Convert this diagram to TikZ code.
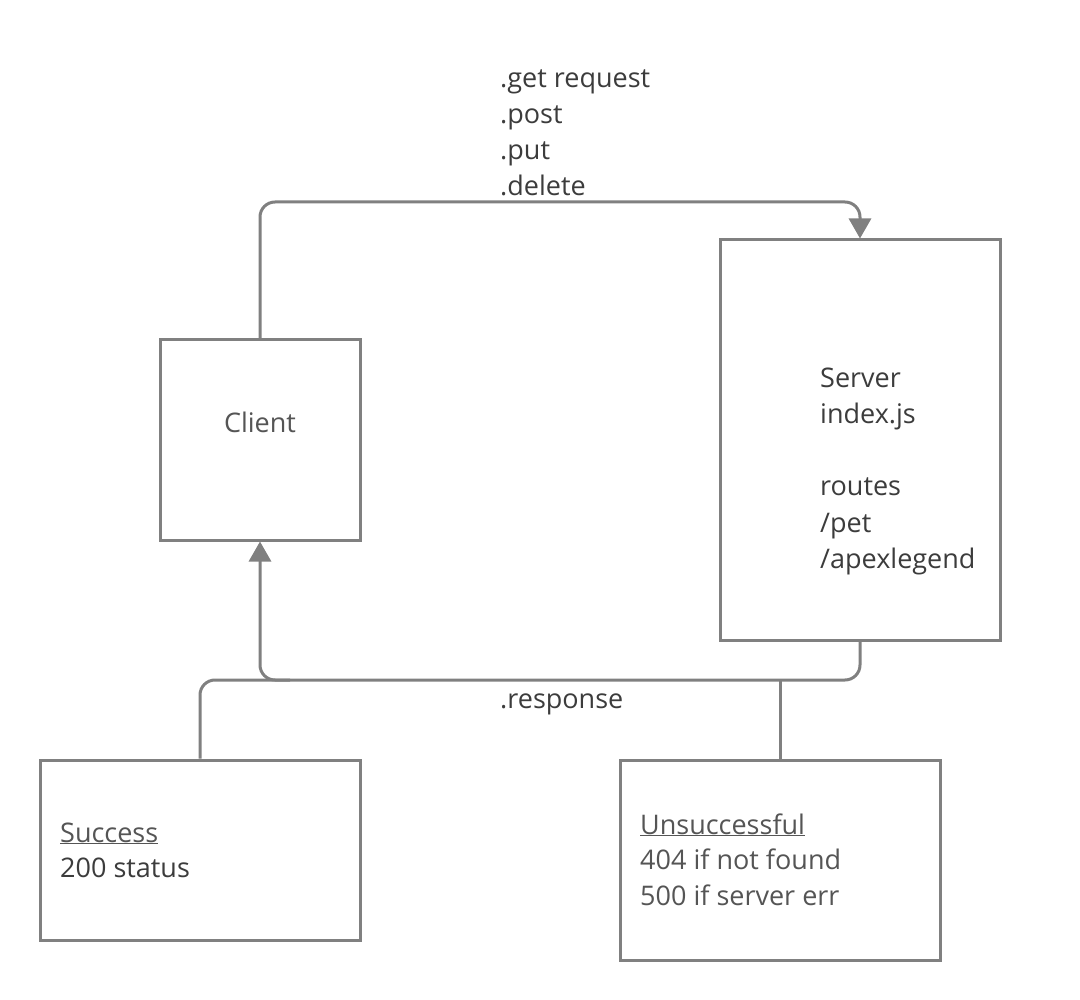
\documentclass[tikz,border=0pt]{standalone}
\usepackage{fontspec}
\setmainfont{Open Sans}
\usetikzlibrary{arrows.meta}
\definecolor{ln}{HTML}{808080}
\definecolor{tx}{HTML}{3C3C3C}
\definecolor{txl}{HTML}{555555}
\begin{document}
\begin{tikzpicture}[x=1pt,y=-1pt,
  box/.style={draw=ln,line width=3pt,fill=white,inner sep=0pt},
  lbl/.style={inner sep=0pt,anchor=base west,text=tx,font=\fontsize{27}{32}\selectfont},
  conn/.style={draw=ln,line width=3pt,rounded corners=15pt},
  tip/.style={-{Triangle[width=22pt,length=20pt]}}]
\useasboundingbox (0,0) rectangle (1080,1000);
% boxes
\node[box,minimum width=200pt,minimum height=200pt] (client) at (260,440) {};
\node[box,minimum width=280pt,minimum height=400pt] (server) at (860,440) {};
\node[box,minimum width=320pt,minimum height=180pt] (success) at (200,850) {};
\node[box,minimum width=320pt,minimum height=200pt] (unsucc) at (780,860) {};
% coordinates
\coordinate (top) at (560,202);
\coordinate (bot) at (560,680);
\coordinate (sj) at (290,680);
% connectors
\draw[conn,tip] (client.north) |- (top) -| (server.north);
\draw[conn,tip] (server.south) |- (bot) -| (client.south);
\draw[conn] (success.north) |- (sj);
\draw[conn] (unsucc.north) -- (unsucc.north |- bot);
% labels
\node[lbl] (m1) at (500,88) {.get request};
\node[lbl] (m2) at (500,124) {.post};
\node[lbl] (m3) at (500,160) {.put};
\node[lbl] (m4) at (500,196) {.delete};
\node[lbl] (resp) at (500,708) {.response};
\node[lbl,anchor=base,text=txl] (ct) at (260,432) {Client};
\node[lbl] (s1) at (820,388) {Server};
\node[lbl] (s2) at (820,424) {index.js};
\node[lbl] (s3) at (820,496) {routes};
\node[lbl] (s4) at (820,532) {/pet};
\node[lbl] (s5) at (820,568) {/apexlegend};
\node[lbl,text=txl] (ok1) at (60,842) {\underline{Success}};
\node[lbl] (ok2) at (60,877) {200 status};
\node[lbl,text=txl] (er1) at (640,834) {\underline{Unsuccessful}};
\node[lbl,text=txl] (er2) at (640,869) {404 if not found};
\node[lbl,text=txl] (er3) at (640,905) {500 if server err};
\end{tikzpicture}
\end{document}
